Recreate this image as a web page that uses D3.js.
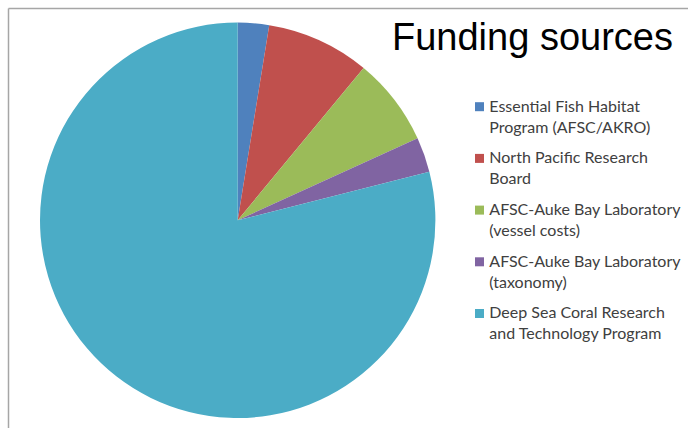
<!DOCTYPE html>
<html><head><meta charset="utf-8">
<script src="https://cdn.jsdelivr.net/npm/d3@7"></script>
<style>html,body{margin:0;padding:0;background:#fff;}svg{display:block;}</style>
</head><body>
<svg id="c" width="688" height="428"></svg>
<script>
const categories = [
  ["Essential Fish Habitat", "Program (AFSC/AKRO)"],
  ["North Pacific Research", "Board"],
  ["AFSC-Auke Bay Laboratory", "(vessel costs)"],
  ["AFSC-Auke Bay Laboratory", "(taxonomy)"],
  ["Deep Sea Coral Research", "and Technology Program"]
];
const values = [2.55, 8.44, 7.2, 2.86, 78.95];
const colors = ["#4F81BD", "#C0504D", "#9BBB59", "#8064A2", "#4BACC6"];
const title = "Funding sources";

const svg = d3.select("#c");
// frame (left and top edges visible)
svg.append("line").attr("x1", 8.5).attr("y1", 8.5).attr("x2", 688).attr("y2", 8.5)
  .attr("stroke", "#a6a6a6").attr("stroke-width", 1.5);
svg.append("line").attr("x1", 8.5).attr("y1", 8.5).attr("x2", 8.5).attr("y2", 428)
  .attr("stroke", "#a6a6a6").attr("stroke-width", 1.5);

const cx = 237.7, cy = 220.3, r = 197.7;
const pie = d3.pie().sort(null).value(d => d);
const arc = d3.arc().innerRadius(0).outerRadius(r);
const g = svg.append("g").attr("transform", `translate(${cx},${cy})`);
g.selectAll("path").data(pie(values)).join("path")
  .attr("d", arc).attr("fill", (d, i) => colors[i]);

svg.append("text").attr("x", 392).attr("y", 49.5)
  .attr("font-family", "Liberation Sans, Arial, sans-serif")
  .attr("font-size", 38).attr("fill", "#000").text(title);

const leg = svg.append("g");
const y0 = 111.5, step = 51.7, lh = 21;
categories.forEach((lines, i) => {
  const y = y0 + i * step;
  leg.append("rect").attr("x", 475).attr("y", y - 9.3).attr("width", 9).attr("height", 9)
    .attr("fill", colors[i]);
  lines.forEach((t, j) => {
    leg.append("text").attr("x", 489.3).attr("y", y + j * lh)
      .attr("font-family", "Lato, sans-serif").attr("font-size", 16)
      .attr("fill", "#404040").text(t);
  });
});
</script>
</body></html>
